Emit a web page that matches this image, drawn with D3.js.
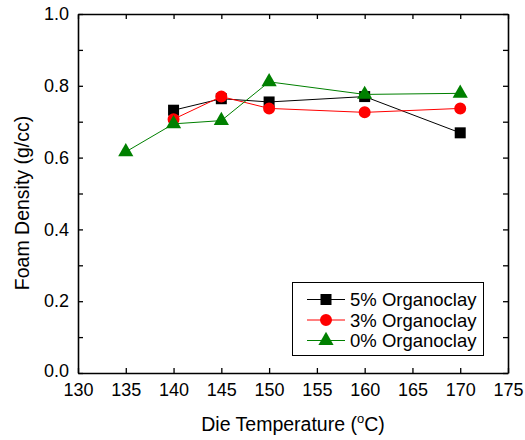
<!DOCTYPE html>
<html>
<head>
<meta charset="utf-8">
<script src="https://cdn.jsdelivr.net/npm/d3@7"></script>
<style>
  body { margin: 0; background: #fff; }
  svg text { font-family: Arial, "Liberation Sans", sans-serif; fill: #000; }
</style>
</head>
<body>
<div id="chart"></div>
<script>
// data
var temps5 = [140, 145, 150, 160, 170];
var dens5 = [0.732, 0.764, 0.755, 0.770, 0.669];
var temps3 = [140, 145, 150, 160, 170];
var dens3 = [0.707, 0.770, 0.737, 0.726, 0.737];
var temps0 = [135, 140, 145, 150, 160, 170];
var dens0 = [0.616, 0.694, 0.703, 0.811, 0.776, 0.779];
var seriesNames = ["5% Organoclay", "3% Organoclay", "0% Organoclay"];
var xTicks = [130, 135, 140, 145, 150, 155, 160, 165, 170, 175];
var yTicks = [0, 0.1, 0.2, 0.3, 0.4, 0.5, 0.6, 0.7, 0.8, 0.9, 1.0];

var width = 525, height = 440;
var margin = { top: 14, right: 17, bottom: 67, left: 78 };

var svg = d3.select("#chart")
    .append("svg")
    .attr("width", width)
    .attr("height", height);

var x = d3.scaleLinear()
    .domain([130, 175])
    .range([margin.left, width - margin.right]);
var y = d3.scaleLinear()
    .domain([0, 1])
    .range([height - margin.bottom, margin.top]);

// labels only every 0.2, ticks every 0.1
function yLabel(d) {
    var i = Math.round(d * 10);
    if (i % 2 == 1) return "";
    return d3.format(".1f")(d);
}

// axes, ticks pointing inward on all four sides
var axBottom = svg.append("g")
    .attr("transform", "translate(0," + y(0) + ")")
    .call(d3.axisBottom(x).tickValues(xTicks).tickSizeInner(-5).tickSizeOuter(0).tickPadding(10));
var axTop = svg.append("g")
    .attr("transform", "translate(0," + y(1) + ")")
    .call(d3.axisTop(x).tickValues(xTicks).tickSizeInner(-5).tickSizeOuter(0).tickFormat(""));
var axLeft = svg.append("g")
    .attr("transform", "translate(" + x(130) + ",0)")
    .call(d3.axisLeft(y).tickValues(yTicks).tickSizeInner(-5).tickSizeOuter(0).tickPadding(9).tickFormat(yLabel));
var axRight = svg.append("g")
    .attr("transform", "translate(" + x(175) + ",0)")
    .call(d3.axisRight(y).tickValues(yTicks).tickSizeInner(-5).tickSizeOuter(0).tickFormat(""));

[axBottom, axTop, axLeft, axRight].forEach(function (g) {
    g.selectAll("path").attr("stroke", "#000").attr("stroke-width", 1.6);
    g.selectAll("line").attr("stroke", "#000").attr("stroke-width", 1.3);
    g.selectAll("text").style("font-size", "18px").style("font-family", "Arial, 'Liberation Sans', sans-serif");
});
// the 0.0 label sits a little higher than its tick
axLeft.selectAll(".tick text").filter(function (d) { return d === 0; }).attr("dy", "0.2em");

// axis titles
var xt = svg.append("text")
    .attr("x", (x(130) + x(175)) / 2)
    .attr("y", 431)
    .attr("text-anchor", "middle")
    .style("font-size", "19.5px")
    .text("Die Temperature (");
xt.append("tspan").attr("dy", -8).style("font-size", "13px").text("o");
xt.append("tspan").attr("dy", 8).text("C)");

svg.append("text")
    .attr("transform", "translate(29,203)rotate(-90)")
    .attr("text-anchor", "middle")
    .style("font-size", "19.5px")
    .text("Foam Density (g/cc)");

// series
var series = [
    { name: seriesNames[0], xs: temps5, ys: dens5, color: "#000000", shape: d3.symbolSquare, size: 121 },
    { name: seriesNames[1], xs: temps3, ys: dens3, color: "#ff0000", shape: d3.symbolCircle, size: 113 },
    { name: seriesNames[2], xs: temps0, ys: dens0, color: "#008000", shape: d3.symbolTriangle, size: 100 }
];

var line = d3.line()
    .x(function (d) { return x(d[0]); })
    .y(function (d) { return y(d[1]); });

series.forEach(function (s) {
    var pts = d3.zip(s.xs, s.ys);
    svg.append("path")
        .datum(pts)
        .attr("d", line)
        .attr("fill", "none")
        .attr("stroke", s.color)
        .attr("stroke-width", 1);
    svg.selectAll(null)
        .data(pts)
        .enter()
        .append("path")
        .attr("transform", function (d) { return "translate(" + x(d[0]) + "," + y(d[1]) + ")"; })
        .attr("d", d3.symbol().type(s.shape).size(s.size))
        .attr("fill", s.color);
});

// legend
var legend = svg.append("g");
legend.append("rect")
    .attr("x", 292.5).attr("y", 282.5)
    .attr("width", 191).attr("height", 73)
    .attr("fill", "#fff")
    .attr("stroke", "#000")
    .attr("stroke-width", 1);

series.forEach(function (s, i) {
    var ly = 299.5 + i * 20.5;
    legend.append("line")
        .attr("x1", 307).attr("x2", 345)
        .attr("y1", ly).attr("y2", ly)
        .attr("stroke", s.color)
        .attr("stroke-width", 1);
    legend.append("path")
        .attr("transform", "translate(326," + ly + ")")
        .attr("d", d3.symbol().type(s.shape).size(s.size))
        .attr("fill", s.color);
    legend.append("text")
        .attr("x", 350)
        .attr("y", ly + 6.5)
        .style("font-size", "18.5px")
        .text(s.name);
});
</script>
</body>
</html>
